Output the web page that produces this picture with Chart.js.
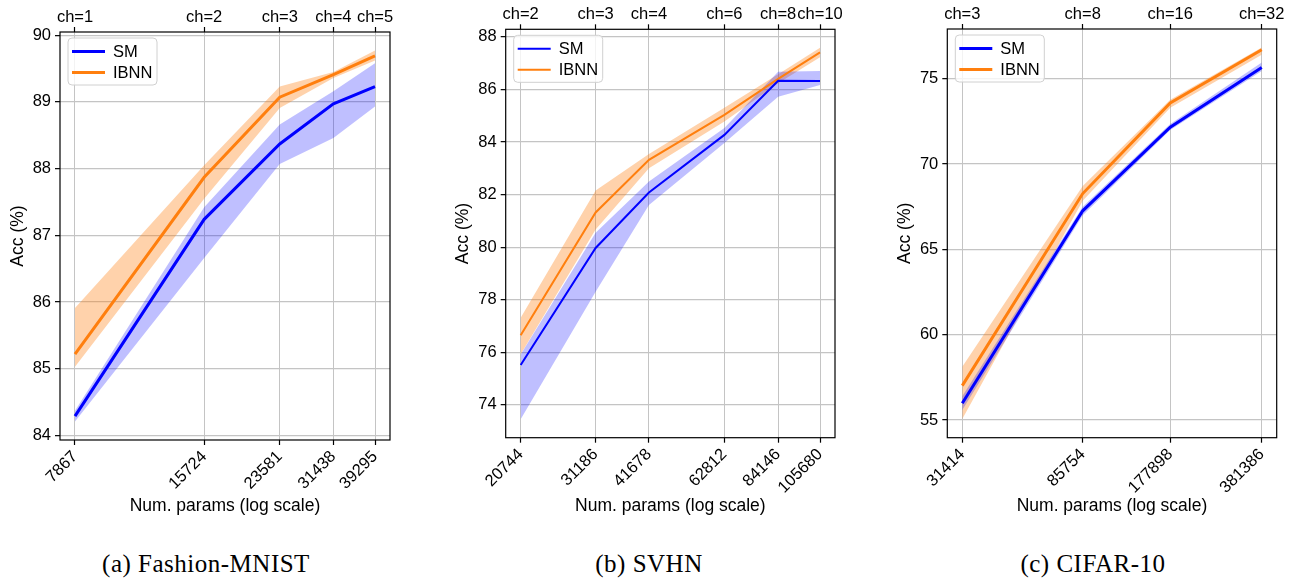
<!DOCTYPE html>
<html>
<head>
<meta charset="utf-8">
<script src="https://cdn.jsdelivr.net/npm/chart.js@4.4.1/dist/chart.umd.min.js"></script>
<style>
body { margin: 0; background: #fff; width: 1301px; height: 579px; position: relative; overflow: hidden; }
canvas { position: absolute; top: 0; }
.cap { position: absolute; top: 550px; line-height: 28px; font-family: 'Liberation Serif', 'Times New Roman', serif; font-size: 25px; letter-spacing: 0.5px; color: #000; text-align: center; width: 300px; white-space: nowrap; }
</style>
</head>
<body>
<canvas id="chartFm" width="400" height="530" style="left:0px"></canvas>
<canvas id="chartSvhn" width="410" height="530" style="left:440px"></canvas>
<canvas id="chartCifar" width="416" height="530" style="left:885px"></canvas>
<div class="cap" style="left:56px">(a) Fashion-MNIST</div>
<div class="cap" style="left:499px">(b) SVHN</div>
<div class="cap" style="left:943px">(c) CIFAR-10</div>
<script>
// Fashion-MNIST
var fmParams = [7867, 15724, 23581, 31438, 39295];
var fmChannels = [1, 2, 3, 4, 5];
var fmSm = [84.29, 87.24, 88.37, 88.97, 89.23];
var fmSmLo = [84.21, 86.66, 88.07, 88.46, 88.93];
var fmSmHi = [84.37, 87.42, 88.66, 89.16, 89.58];
var fmIbnn = [85.22, 87.87, 89.07, 89.41, 89.69];
var fmIbnnLo = [85.03, 87.55, 88.91, 89.36, 89.62];
var fmIbnnHi = [85.91, 88.05, 89.23, 89.45, 89.77];
var fmYTicks = [84, 85, 86, 87, 88, 89, 90];

// SVHN
var svParams = [20744, 31186, 41678, 62812, 84146, 105680];
var svChannels = [2, 3, 4, 6, 8, 10];
var svSm = [75.52, 79.97, 82.08, 84.27, 86.33, 86.32];
var svSmLo = [73.46, 78.3, 81.6, 83.96, 85.72, 86.17];
var svSmHi = [75.92, 80.55, 82.5, 84.53, 86.67, 86.7];
var svIbnn = [76.65, 81.32, 83.32, 85.03, 86.4, 87.41];
var svIbnnLo = [75.93, 80.67, 83.0, 84.78, 86.23, 87.22];
var svIbnnHi = [77.32, 82.16, 83.54, 85.3, 86.58, 87.58];
var svYTicks = [74, 76, 78, 80, 82, 84, 86, 88];

// CIFAR-10
var cfParams = [31414, 85754, 177898, 381386];
var cfChannels = [3, 8, 16, 32];
var cfSm = [55.99, 67.26, 72.16, 75.66];
var cfSmLo = [55.6, 67.0, 72.0, 75.45];
var cfSmHi = [56.4, 67.5, 72.35, 75.95];
var cfIbnn = [57.02, 68.27, 73.58, 76.69];
var cfIbnnLo = [55.06, 67.85, 73.29, 76.4];
var cfIbnnHi = [58.13, 68.72, 73.77, 76.82];
var cfYTicks = [55, 60, 65, 70, 75];

var BLUE = '#0000ff';
var ORANGE = '#ff7f0e';
var BLUE_FILL = 'rgba(0,0,255,0.25)';
var ORANGE_FILL = 'rgba(255,127,14,0.35)';
var GRID = '#c4c4c4';
var SANS = "'Liberation Sans', Arial, Helvetica, sans-serif";
var H = 530;

function points(xs, ys) {
    return xs.map(function (x, i) { return { x: x, y: ys[i] }; });
}

// same 5% margins matplotlib uses
function yLimits(arrays) {
    var all = [].concat.apply([], arrays);
    var mn = Math.min.apply(null, all), mx = Math.max.apply(null, all);
    var m = (mx - mn) * 0.05;
    return [mn - m, mx + m];
}

function xLimits(p) {
    var a = Math.log(p[0]), b = Math.log(p[p.length - 1]);
    var m = (b - a) * 0.05;
    return [Math.exp(a - m), Math.exp(b + m)];
}

var legendBox = {
    id: 'legendBox',
    afterDraw: function (chart) {
        var ctx = chart.ctx, area = chart.chartArea;
        var lw = chart.options.plugins.legendBox.lineWidth;
        var x = area.left + 8, y = area.top + 6, w = 89, h = 47;
        ctx.save();
        // frame
        ctx.strokeStyle = '#000';
        ctx.lineWidth = 1.2;
        ctx.strokeRect(area.left, area.top, area.right - area.left, area.bottom - area.top);
        // legend
        ctx.beginPath();
        ctx.roundRect(x, y, w, h, 4);
        ctx.fillStyle = 'rgba(255,255,255,0.8)';
        ctx.fill();
        ctx.strokeStyle = '#d0d0d0';
        ctx.lineWidth = 1;
        ctx.stroke();
        var items = [chart.data.datasets[0], chart.data.datasets[1]];
        ctx.font = '16.5px ' + SANS;
        ctx.textBaseline = 'middle';
        items.forEach(function (ds, i) {
            var ly = y + 13.5 + i * 21;
            ctx.beginPath();
            ctx.moveTo(x + 4, ly);
            ctx.lineTo(x + 37, ly);
            ctx.strokeStyle = ds.borderColor;
            ctx.lineWidth = lw;
            ctx.stroke();
            ctx.fillStyle = '#000';
            ctx.fillText(ds.label, x + 45, ly + 1);
        });
        ctx.restore();
    }
};

function BuildPanel(id, d, box) {
    var canvas = document.getElementById(id);
    var W = canvas.width;
    var xl = xLimits(d.params);
    var yl = yLimits([d.smLo, d.smHi, d.ibnnLo, d.ibnnHi]);
    var tickFont = { family: SANS, size: 16.5 };
    var labelFont = { family: SANS, size: 17.5 };
    var paramTicks = function (s) { s.ticks = d.params.map(function (v) { return { value: v }; }); };

    new Chart(canvas, {
        type: 'line',
        data: {
            datasets: [
                { label: 'SM', data: points(d.params, d.sm), borderColor: BLUE, borderWidth: d.lw, order: 0 },
                { label: 'IBNN', data: points(d.params, d.ibnn), borderColor: ORANGE, borderWidth: d.lw, order: 0 },
                { label: 'smHi', data: points(d.params, d.smHi), borderWidth: 0, order: 1 },
                { label: 'smLo', data: points(d.params, d.smLo), borderWidth: 0, fill: '-1', backgroundColor: BLUE_FILL, order: 1 },
                { label: 'ibHi', data: points(d.params, d.ibnnHi), borderWidth: 0, order: 1 },
                { label: 'ibLo', data: points(d.params, d.ibnnLo), borderWidth: 0, fill: '-1', backgroundColor: ORANGE_FILL, order: 1 }
            ]
        },
        options: {
            responsive: false,
            animation: false,
            devicePixelRatio: 1,
            elements: { point: { radius: 0 }, line: { tension: 0, borderCapStyle: 'butt' } },
            layout: { padding: { left: 0, top: 0, bottom: 0, right: W - box.right } },
            plugins: { legend: { display: false }, tooltip: { enabled: false }, legendBox: { lineWidth: d.lw } },
            scales: {
                x: {
                    type: 'logarithmic', position: 'bottom', min: xl[0], max: xl[1],
                    afterBuildTicks: paramTicks,
                    afterFit: function (s) { s.height = H - box.bottom; },
                    ticks: {
                        autoSkip: false, minRotation: 45, maxRotation: 45, padding: 2, color: '#000', font: tickFont,
                        callback: function (v, i) { return String(d.params[i]); }
                    },
                    grid: { color: GRID, lineWidth: 1, tickLength: 5, tickColor: '#000', tickWidth: 1.2 },
                    border: { display: false },
                    title: { display: true, text: 'Num. params (log scale)', color: '#000', font: labelFont, padding: { top: 0, bottom: 13 } }
                },
                xTop: {
                    type: 'logarithmic', position: 'top', min: xl[0], max: xl[1],
                    afterBuildTicks: paramTicks,
                    afterFit: function (s) { s.height = box.top; },
                    ticks: {
                        autoSkip: false, minRotation: 0, maxRotation: 0, padding: 0, color: '#000', font: tickFont,
                        callback: function (v, i) { return 'ch=' + d.channels[i]; }
                    },
                    grid: { drawOnChartArea: false, tickLength: 5, tickColor: '#000', tickWidth: 1.2 },
                    border: { display: false }
                },
                y: {
                    min: yl[0], max: yl[1],
                    afterBuildTicks: function (s) { s.ticks = d.yTicks.map(function (v) { return { value: v }; }); },
                    afterFit: function (s) { s.width = box.left; },
                    ticks: { padding: 4, color: '#000', font: tickFont, callback: function (v) { return String(v); } },
                    grid: { color: GRID, lineWidth: 1.3, tickLength: 5, tickColor: '#000', tickWidth: 1.2 },
                    border: { display: false },
                    title: { display: true, text: 'Acc (%)', color: '#000', font: labelFont, padding: { top: box.titlePad, bottom: 0 } }
                }
            }
        },
        plugins: [legendBox]
    });
}

BuildPanel('chartFm', {
    params: fmParams, channels: fmChannels, sm: fmSm, smLo: fmSmLo, smHi: fmSmHi,
    ibnn: fmIbnn, ibnnLo: fmIbnnLo, ibnnHi: fmIbnnHi, yTicks: fmYTicks, lw: 3
}, { left: 60, right: 390, top: 32, bottom: 440, titlePad: 7.5 });

BuildPanel('chartSvhn', {
    params: svParams, channels: svChannels, sm: svSm, smLo: svSmLo, smHi: svSmHi,
    ibnn: svIbnn, ibnnLo: svIbnnLo, ibnnHi: svIbnnHi, yTicks: svYTicks, lw: 2
}, { left: 65.7, right: 395, top: 29.3, bottom: 437.7, titlePad: 12.5 });

BuildPanel('chartCifar', {
    params: cfParams, channels: cfChannels, sm: cfSm, smLo: cfSmLo, smHi: cfSmHi,
    ibnn: cfIbnn, ibnnLo: cfIbnnLo, ibnnHi: cfIbnnHi, yTicks: cfYTicks, lw: 3
}, { left: 62.3, right: 391.7, top: 29, bottom: 437.7, titlePad: 9.5 });
</script>
</body>
</html>
